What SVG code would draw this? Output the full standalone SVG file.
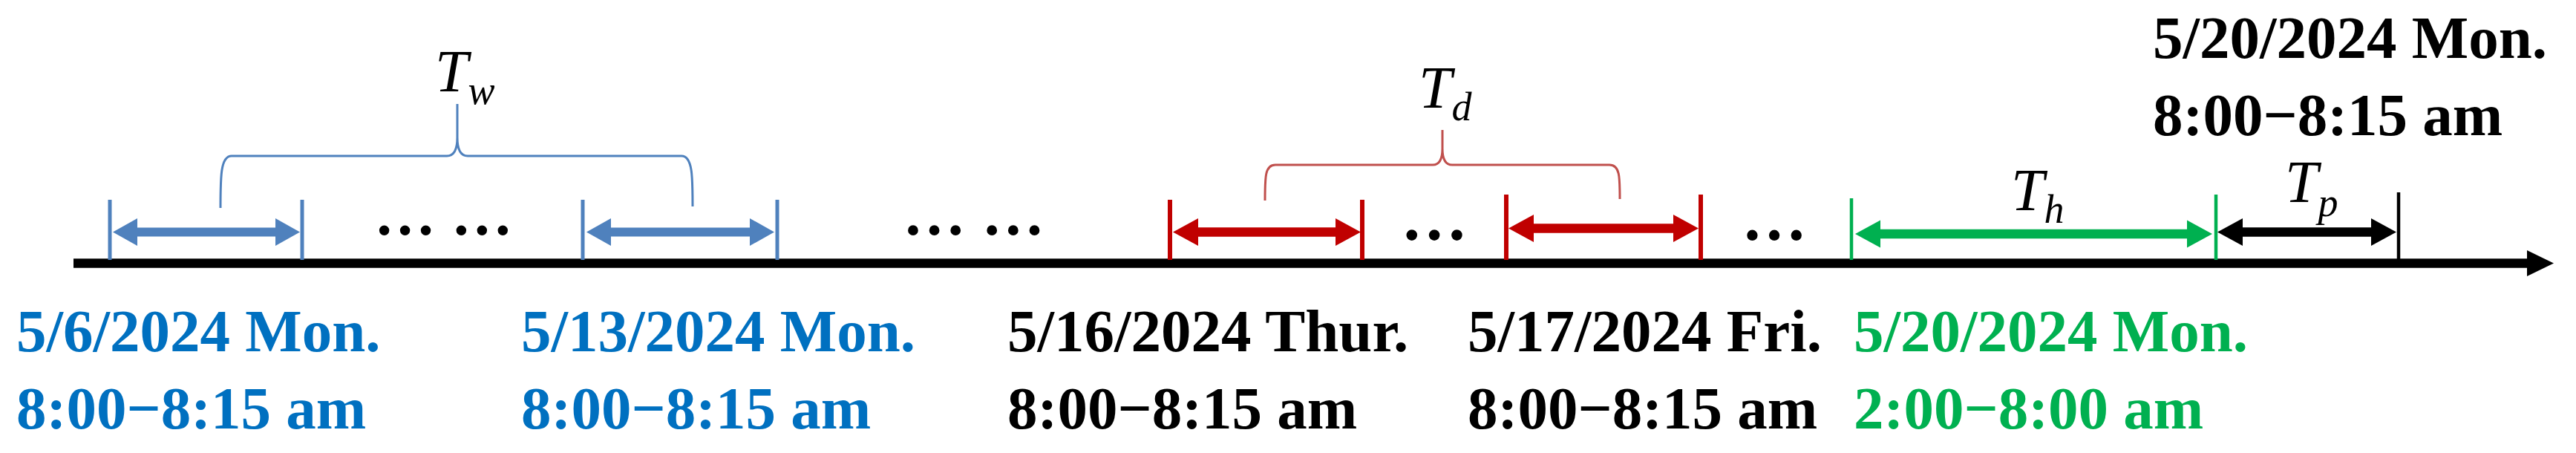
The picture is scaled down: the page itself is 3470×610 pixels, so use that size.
<svg xmlns="http://www.w3.org/2000/svg" width="3470" height="610" viewBox="0 0 3470 610">
<style>
.date{font-family:"Liberation Serif","Times New Roman",serif;font-weight:bold;font-size:81px}
.blue{fill:#0070C0}.green{fill:#00B050}.black{fill:#000}
.math{font-family:"Liberation Serif","Times New Roman",serif;font-style:italic;font-size:80px;fill:#000}
.sub{font-size:54px}
.dots{font-family:"Liberation Serif","Times New Roman",serif;font-weight:bold;fill:#000}
.brace{fill:none;stroke-width:3}
</style>
<defs>
<marker id="hBlue" markerUnits="userSpaceOnUse" orient="auto-start-reverse" refX="0" refY="0" markerWidth="40" markerHeight="40" style="overflow:visible"><path d="M0,-18.5 L33,0 L0,18.5 Z" fill="#4F81BD"/></marker>
<marker id="hRed" markerUnits="userSpaceOnUse" orient="auto-start-reverse" refX="0" refY="0" markerWidth="40" markerHeight="40" style="overflow:visible"><path d="M0,-18.5 L34,0 L0,18.5 Z" fill="#C00000"/></marker>
<marker id="hGreen" markerUnits="userSpaceOnUse" orient="auto-start-reverse" refX="0" refY="0" markerWidth="40" markerHeight="40" style="overflow:visible"><path d="M0,-18.5 L34,0 L0,18.5 Z" fill="#00B050"/></marker>
<marker id="hBlack" markerUnits="userSpaceOnUse" orient="auto-start-reverse" refX="0" refY="0" markerWidth="40" markerHeight="40" style="overflow:visible"><path d="M0,-18.5 L34,0 L0,18.5 Z" fill="#000"/></marker>
<marker id="axisHead" markerUnits="userSpaceOnUse" orient="auto" refX="0" refY="0" markerWidth="40" markerHeight="40" style="overflow:visible"><path d="M0,-17.5 L36,0 L0,17.5 Z" fill="#000"/></marker>
</defs>
<rect width="3470" height="610" fill="#fff"/>

<g id="axis">
<line x1="99" y1="354.5" x2="3404" y2="354.5" stroke="#000" stroke-width="12.5" marker-end="url(#axisHead)"/>
</g>

<g id="ticks">
<g stroke="#4F81BD" stroke-width="5">
<line x1="148" y1="269" x2="148" y2="350"/>
<line x1="407" y1="269" x2="407" y2="350"/>
<line x1="785" y1="269" x2="785" y2="350"/>
<line x1="1047" y1="269" x2="1047" y2="350"/>
</g>
<g stroke="#C00000" stroke-width="6">
<line x1="1576" y1="269" x2="1576" y2="350"/>
<line x1="1835" y1="269" x2="1835" y2="350"/>
<line x1="2029" y1="262" x2="2029" y2="350"/>
<line x1="2291" y1="262" x2="2291" y2="350"/>
</g>
<g stroke="#00B050" stroke-width="4.5">
<line x1="2494" y1="267" x2="2494" y2="350"/>
<line x1="2985" y1="262" x2="2985" y2="350"/>
</g>
<line x1="3231" y1="259" x2="3231" y2="350" stroke="#000" stroke-width="4.5"/>
</g>

<g id="connectors">
<line x1="185" y1="312.5" x2="371" y2="312.5" stroke="#4F81BD" stroke-width="12" marker-start="url(#hBlue)" marker-end="url(#hBlue)"/>
<line x1="823" y1="312.5" x2="1010" y2="312.5" stroke="#4F81BD" stroke-width="12" marker-start="url(#hBlue)" marker-end="url(#hBlue)"/>
<line x1="1614" y1="312.5" x2="1799" y2="312.5" stroke="#C00000" stroke-width="12.5" marker-start="url(#hRed)" marker-end="url(#hRed)"/>
<line x1="2066" y1="307.5" x2="2254" y2="307.5" stroke="#C00000" stroke-width="12.5" marker-start="url(#hRed)" marker-end="url(#hRed)"/>
<line x1="2533" y1="315" x2="2946" y2="315" stroke="#00B050" stroke-width="12.5" marker-start="url(#hGreen)" marker-end="url(#hGreen)"/>
<line x1="3021" y1="312.5" x2="3194" y2="312.5" stroke="#000" stroke-width="12.5" marker-start="url(#hBlack)" marker-end="url(#hBlack)"/>
<path class="brace" stroke="#4F81BD" d="M297,280 C297,238 297,210 312,210 L602,210 C612,210 616,200 616,185 L616,140 M616,185 C616,200 620,210 630,210 L918,210 C933,210 933,238 933,278"/>
<path class="brace" stroke="#C0504D" d="M1704,270 C1704,238 1704,222 1718,222 L1930,222 C1940,222 1943,212 1943,200 L1943,175 M1943,200 C1943,212 1946,222 1956,222 L2168,222 C2182,222 2182,238 2182,268"/>
</g>

<g id="label-Tw"><text class="math" x="586" y="123">T<tspan class="sub" dy="17">w</tspan></text></g>
<g id="label-Td"><text class="math" x="1911" y="145">T<tspan class="sub" dy="17">d</tspan></text></g>
<g id="label-Th"><text class="math" x="2709" y="283">T<tspan class="sub" dy="17">h</tspan></text></g>
<g id="label-Tp"><text class="math" x="3078" y="272">T<tspan class="sub" dy="19">p</tspan></text></g>

<g id="ellipses">
<text class="dots" x="504" y="316" font-size="83">… …</text>
<text class="dots" x="1216" y="316" font-size="85">… …</text>
<text class="dots" x="1887" y="323" font-size="90">…</text>
<text class="dots" x="2346" y="323" font-size="88">…</text>
</g>

<g id="node-w1"><text class="date blue"><tspan x="22" y="473">5/6/2024 Mon.</tspan><tspan x="22" y="577">8:00−8:15 am</tspan></text></g>
<g id="node-w2"><text class="date blue"><tspan x="702" y="473">5/13/2024 Mon.</tspan><tspan x="702" y="577">8:00−8:15 am</tspan></text></g>
<g id="node-d1"><text class="date black"><tspan x="1357" y="473">5/16/2024 Thur.</tspan><tspan x="1357" y="577">8:00−8:15 am</tspan></text></g>
<g id="node-d2"><text class="date black"><tspan x="1977" y="473">5/17/2024 Fri.</tspan><tspan x="1977" y="577">8:00−8:15 am</tspan></text></g>
<g id="node-h"><text class="date green"><tspan x="2497" y="473">5/20/2024 Mon.</tspan><tspan x="2497" y="577">2:00−8:00 am</tspan></text></g>
<g id="node-p"><text class="date black"><tspan x="2900" y="78">5/20/2024 Mon.</tspan><tspan x="2900" y="182">8:00−8:15 am</tspan></text></g>
</svg>
